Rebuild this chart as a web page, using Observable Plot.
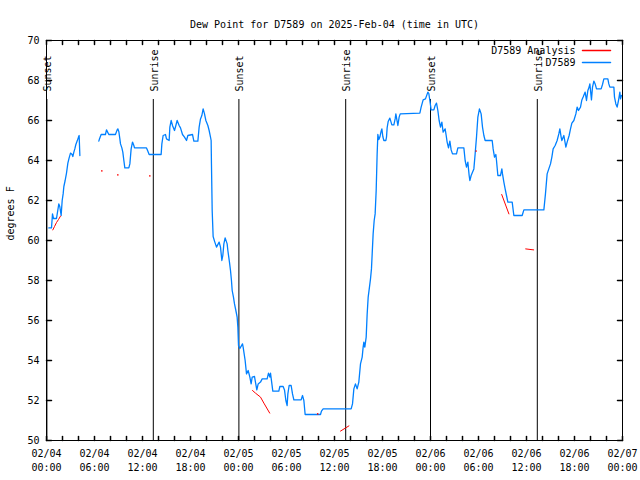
<!DOCTYPE html>
<html>
<head>
<meta charset="utf-8">
<script src="https://cdn.jsdelivr.net/npm/d3@7"></script>
<script src="https://cdn.jsdelivr.net/npm/@observablehq/plot@0.6"></script>
<style>
  html, body { margin: 0; padding: 0; background: #fff; }
</style>
</head>
<body>
<div id="chart"></div>
<script>
const titleText = "Dew Point for D7589 on 2025-Feb-04 (time in UTC)";
const yLabelText = "degrees F";
const startTime = "2025-02-04T00:00:00Z";
const endTime = "2025-02-07T00:00:00Z";
const yTicks = [50, 52, 54, 56, 58, 60, 62, 64, 66, 68, 70];

// Observations (hours after 02/04 00:00 UTC, degrees F); null marks a data gap
const obsHours = [0.29,0.625,0.75,0.875,1.25,1.54,1.66,1.83,1.96,2.08,2.17,2.33,2.5,2.67,2.83,3.0,3.2,3.29,3.42,3.54,3.67,3.83,4.0,4.08,4.17,
  5.3,
  6.54,6.62,6.83,7.37,7.5,7.79,8.62,8.83,8.92,9.04,9.17,9.25,9.42,9.54,9.67,9.79,10.29,10.42,10.58,10.75,10.92,11.0,12.5,12.66,12.83,14.33,14.42,14.58,14.87,15.0,15.33,15.42,15.58,15.75,16.0,16.17,16.33,16.58,16.75,17.0,17.25,17.5,17.67,18.25,18.42,18.92,19.08,19.25,19.42,19.58,19.75,19.92,20.17,20.33,20.5,20.58,20.62,20.71,20.83,21.0,21.25,21.58,21.75,21.92,22.04,22.17,22.33,22.58,22.67,22.87,23.0,23.12,23.21,23.37,23.5,23.67,23.83,23.92,24.0,24.17,24.5,24.58,24.83,25.0,25.21,25.42,25.58,25.71,26.0,26.12,26.29,26.46,26.75,26.96,27.58,27.75,27.92,28.0,28.29,29.04,29.17,29.58,29.75,29.92,30.08,30.17,30.33,30.58,30.75,30.92,31.83,32.0,32.17,32.33,34.25,34.37,34.58,38.08,38.25,38.42,38.62,38.83,39.04,39.25,39.46,39.58,39.67,39.79,39.96,40.08,40.21,40.37,40.5,40.62,40.71,40.83,40.96,41.08,41.21,41.33,41.42,41.54,41.67,41.83,41.92,42.04,42.17,42.42,42.5,42.58,42.71,42.92,43.17,43.42,43.58,43.67,43.92,44.08,44.21,46.67,46.83,47.08,47.37,47.67,47.79,47.92,48.08,48.42,48.58,48.75,48.92,49.08,49.25,49.42,49.58,49.83,49.96,50.08,50.25,50.42,50.58,50.75,51.25,51.42,52.17,52.33,52.5,52.67,52.83,52.92,53.08,53.42,53.58,53.75,53.92,54.12,54.33,54.5,54.67,54.83,55.71,55.83,56.0,56.17,56.25,56.42,56.75,56.92,57.0,57.17,57.33,57.5,57.67,58.21,58.42,59.46,59.67,62.17,62.37,62.58,62.83,63.0,63.17,63.33,63.58,63.83,64.04,64.17,64.33,64.42,64.67,64.92,65.08,65.33,65.5,65.67,65.92,66.17,66.33,66.5,66.75,66.92,67.08,67.33,67.5,67.67,67.83,67.92,68.12,68.25,68.42,68.58,68.75,69.33,69.5,69.67,70.17,70.29,70.42,70.92,71.0,71.17,71.33,71.5,71.67,71.75,71.87];
const obsValues = [60.63,60.63,61.33,61.1,61.1,61.83,61.7,61.25,62.0,62.33,62.7,63.0,63.37,63.87,64.13,64.37,64.3,64.2,64.42,64.58,64.8,64.97,65.17,65.25,64.25,
  null,
  64.97,65.08,65.3,65.3,65.53,65.3,65.3,65.53,65.58,65.45,65.08,64.83,64.63,64.42,64.0,63.63,63.63,63.83,64.58,64.92,64.75,64.63,64.63,64.47,64.3,64.3,64.83,65.25,65.3,65.08,65.0,65.67,66.0,65.75,65.5,65.75,66.0,65.75,65.63,65.3,65.17,65.0,65.25,65.3,64.97,64.97,65.67,66.08,66.25,66.58,66.33,66.0,65.75,65.5,65.17,65.0,63.83,61.5,60.2,59.97,59.67,59.92,59.67,59.0,59.25,59.83,60.13,59.83,59.5,58.92,58.5,58.0,57.5,57.17,56.83,56.5,56.17,55.67,54.75,54.6,54.83,54.67,54.0,53.33,53.5,53.17,52.83,53.17,53.2,52.92,52.53,52.83,52.92,53.08,53.08,53.37,53.17,53.37,52.47,52.47,52.7,52.7,52.53,52.0,51.75,52.33,52.75,52.75,52.33,52.03,52.03,52.25,52.0,51.3,51.3,51.47,51.58,51.58,51.83,52.58,52.83,52.58,52.92,53.83,54.17,54.67,54.92,54.67,55.17,56.3,57.17,57.67,58.08,58.58,59.33,60.33,61.0,61.33,62.5,64.33,65.3,65.05,65.17,65.47,65.58,65.2,65.0,65.0,65.17,65.63,65.95,66.12,65.78,65.78,66.08,66.33,65.75,66.17,66.33,66.37,66.67,67.03,67.08,67.42,67.35,67.0,66.53,66.53,66.75,66.87,66.5,66.0,65.67,65.92,65.42,65.58,65.25,64.92,64.63,64.97,64.53,64.33,64.33,64.63,64.63,64.0,63.67,63.92,63.25,63.0,63.25,63.58,64.33,65.17,66.17,66.58,66.33,65.67,65.25,65.0,65.0,64.58,64.17,64.3,64.0,63.25,63.25,63.58,63.33,62.92,62.58,62.25,61.92,61.92,61.25,61.25,61.53,61.53,62.33,63.33,63.63,63.83,64.17,64.58,64.75,65.0,65.33,65.58,65.17,65.0,65.25,64.67,64.92,65.25,65.58,65.87,66.0,66.33,66.67,66.5,66.67,67.03,67.17,67.42,67.0,67.5,67.67,67.83,67.03,67.67,67.97,67.83,67.58,67.58,67.8,68.08,68.08,67.83,67.67,67.67,67.17,66.83,66.67,67.0,67.42,67.08,67.25];

// Analysis segments
const anaSeg = ["a","a","a","a","a","b","b","b","b","b","c","c","d","d","e","e"];
const anaHours = [0.79,1.0,1.25,1.5,1.75, 25.75,26.12,26.75,27.17,27.9, 36.75,37.8, 56.9,57.8, 59.9,60.9];
const anaValues = [60.53,60.7,60.9,61.05,61.22, 52.5,52.37,52.17,51.87,51.37, 50.47,50.73, 62.3,61.33, 59.58,59.53];
// Isolated analysis points
const anaDotHours = [6.92, 8.92, 12.92, 33.9, 53.7];
const anaDotValues = [63.48, 63.28, 63.23, 51.33, 64.47];

// Sun events
const eventLabels = ["Sunset","Sunrise","Sunset","Sunrise","Sunset","Sunrise"];
const eventHours = [0.05, 13.35, 24.05, 37.4, 48.0, 61.35];

const legendLabels = ["D7589 Analysis", "D7589"];
const legendColors = ["#ff0000", "#0080ff"];

const t0 = new Date(startTime);
const t1 = new Date(endTime);
const toDate = h => new Date(t0.getTime() + h * 3600e3);

const obs = obsHours.map((h, i) => ({t: toDate(h), v: obsValues[i] == null ? NaN : obsValues[i]}));
const ana = anaHours.map((h, i) => ({t: toDate(h), v: anaValues[i], s: anaSeg[i]}));
const anaDots = anaDotHours.map((h, i) => ({t: toDate(h), v: anaDotValues[i]}));
const events = eventHours.map((h, i) => ({t: toDate(h), label: eventLabels[i]}));

const ticks2h = d3.utcHour.every(2).range(t0, new Date(t1.getTime() + 1));
const ticks6h = d3.utcHour.every(6).range(t0, new Date(t1.getTime() + 1));

const lineShape = {draw(context, l) { context.moveTo(0, 0); context.lineTo(0, -l); }};

const chart = Plot.plot({
  width: 640,
  height: 480,
  marginTop: 40,
  marginBottom: 40,
  marginLeft: 46,
  marginRight: 18,
  style: {fontFamily: "'DejaVu Sans Mono', monospace", fontSize: "10px", background: "#fff", color: "#000"},
  x: {type: "utc", domain: [t0, t1]},
  y: {domain: [50, 70]},
  marks: [
    Plot.ruleX(events, {x: "t", insetTop: 59, stroke: "#000", strokeWidth: 1}),
    Plot.text(events, {x: "t", text: "label", frameAnchor: "top", lineAnchor: "middle", rotate: -90, textAnchor: "start", dy: 51, dx: 1, fill: "#000"}),
    Plot.line(obs, {x: "t", y: "v", stroke: legendColors[1], strokeWidth: 1.3}),
    Plot.line(ana, {x: "t", y: "v", z: "s", stroke: legendColors[0], strokeWidth: 1}),
    Plot.dot(anaDots, {x: "t", y: "v", r: 0.8, fill: legendColors[0], stroke: null}),
    Plot.frame({stroke: "#000"}),
    // inward tick marks on all four sides
    Plot.vector(ticks2h, {x: d => d, frameAnchor: "bottom", length: 4, rotate: 0, anchor: "start", stroke: "#000", shape: lineShape}),
    Plot.vector(ticks2h, {x: d => d, frameAnchor: "top", length: 4, rotate: 180, anchor: "start", stroke: "#000", shape: lineShape}),
    Plot.vector(yTicks, {y: d => d, frameAnchor: "left", length: 5, rotate: 90, anchor: "start", stroke: "#000", shape: lineShape}),
    Plot.vector(yTicks, {y: d => d, frameAnchor: "right", length: 5, rotate: -90, anchor: "start", stroke: "#000", shape: lineShape}),
    Plot.axisX({anchor: "bottom", ticks: ticks6h, tickSize: 0, tickPadding: 7, tickFormat: d3.utcFormat("%m/%d\n%H:%M"), lineHeight: 1.4, label: null}),
    Plot.axisY({anchor: "left", ticks: yTicks, tickSize: 0, tickPadding: 7, label: null}),
    Plot.text([titleText], {frameAnchor: "top", lineAnchor: "middle", dy: -16, fill: "#000"}),
    Plot.text([yLabelText], {frameAnchor: "left", lineAnchor: "middle", rotate: -90, dx: -36, fill: "#000"}),
    Plot.text([legendLabels[0]], {frameAnchor: "top-right", lineAnchor: "middle", textAnchor: "end", dx: -47, dy: 10, fill: "#000"}),
    Plot.text([legendLabels[1]], {frameAnchor: "top-right", lineAnchor: "middle", textAnchor: "end", dx: -47, dy: 22, fill: "#000"}),
    Plot.vector([0], {frameAnchor: "top-right", length: 28, rotate: 90, anchor: "end", dx: -12, dy: 10, stroke: legendColors[0], shape: lineShape}),
    Plot.vector([0], {frameAnchor: "top-right", length: 28, rotate: 90, anchor: "end", dx: -12, dy: 22, stroke: legendColors[1], shape: lineShape})
  ]
});
document.getElementById("chart").appendChild(chart);
</script>
</body>
</html>
